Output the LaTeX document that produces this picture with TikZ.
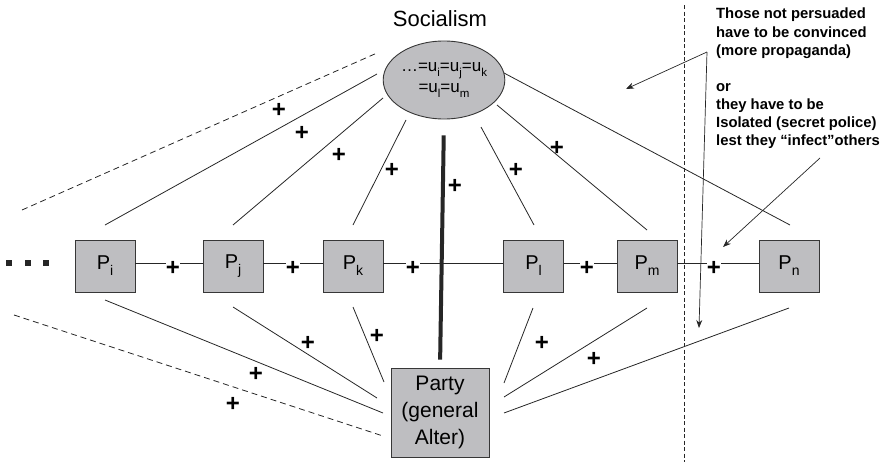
\documentclass[tikz,border=0pt]{standalone}
\usepackage{fontspec}
\setmainfont{Liberation Sans}
\usetikzlibrary{shapes.geometric,arrows.meta}
\definecolor{boxgray}{RGB}{190,190,193}
\definecolor{edgegray}{RGB}{55,55,55}
% lowered subscripts for the person boxes and the utility ellipse
\newcommand\bsub[1]{\raisebox{-6pt}{\fontsize{14}{14}\selectfont #1}}
\newcommand\esub[1]{\raisebox{-4.5pt}{\fontsize{11.5}{11.5}\selectfont #1}}
\begin{document}
\begin{tikzpicture}[x=1pt,y=-1pt,
  person/.style={draw=edgegray, line width=0.9pt, fill=boxgray,
    minimum width=60pt, minimum height=52pt, inner sep=0pt,
    font=\fontsize{20}{22}\selectfont},
  link/.style={line width=0.8pt, draw=black!85},
  linkdash/.style={link, dash pattern=on 6pt off 4pt},
  plus/.style={font=\bfseries\fontsize{24}{24}\selectfont, inner sep=0.4pt},
  plusw/.style={plus, fill=white},
  note/.style={anchor=base west, inner sep=0pt, font=\bfseries\fontsize{14.8}{16}\selectfont},
  pointer/.style={line width=0.7pt, draw=black!85, -{Stealth[length=8pt,width=6pt]}},
]
\useasboundingbox (0,0) rectangle (887,463);

% ---- title and the shared-utility ellipse
\node[anchor=base, inner sep=0pt, font=\fontsize{22}{22}\selectfont] (title) at (440,26) {Socialism};
\node[ellipse, draw=edgegray, line width=0.9pt, fill=boxgray, minimum width=106pt,
  minimum height=78pt, inner sep=0pt, align=center,
  font=\fontsize{17}{21}\selectfont] (soc) at (444,80)
  {…=u\esub{i}=u\esub{j}=u\esub{k}\\=u\esub{l}=u\esub{m}};

% ---- individuals
\node[person] (pi) at (105,266) {P\bsub{i}};
\node[person] (pj) at (233,266) {P\bsub{j}};
\node[person] (pk) at (353,266) {P\bsub{k}};
\node[person] (pl) at (533.5,266) {P\bsub{l}};
\node[person] (pm) at (647,266) {P\bsub{m}};
\node[person] (pn) at (789,266) {P\bsub{n}};

% ---- the party
\node[draw=edgegray, line width=0.9pt, fill=boxgray, minimum width=98pt,
  minimum height=89pt, inner sep=0pt, align=center,
  font=\fontsize{21}{27}\selectfont] (party) at (440,412.5) {Party\\(general\\Alter)};

% ---- leading dots
\foreach \x in {9,28,46}
  \fill[black!85] (\x-2.6,263-2.6) rectangle (\x+2.6,263+2.6);

% ---- chain between individuals
\draw[link] ([yshift=3pt]pi.east) -- ([yshift=3pt]pj.west);
\draw[link] ([yshift=3pt]pj.east) -- ([yshift=3pt]pk.west);
\draw[link] ([yshift=3pt]pk.east) -- ([yshift=3pt]pl.west);
\draw[link] ([yshift=3pt]pl.east) -- ([yshift=3pt]pm.west);
\draw[link] ([yshift=3pt]pm.east) -- ([yshift=3pt]pn.west);

% ---- thick axis between socialism and party
\draw[line width=4pt, black!85, shorten <=16pt, shorten >=8pt] (soc.south) -- (party.north);

% ---- rays towards the ellipse
\coordinate (ua0) at (22,210);   \coordinate (ub0) at (377,53);
\coordinate (ua1) at (105,225);  \coordinate (ub1) at (377,74);
\coordinate (ua2) at (233,225);  \coordinate (ub2) at (383,98);
\coordinate (ua3) at (353,225);  \coordinate (ub3) at (406,120);
\coordinate (ua4) at (534,225);  \coordinate (ub4) at (481,127);
\coordinate (ua5) at (647,230);  \coordinate (ub5) at (497,105);
\coordinate (ua6) at (790,225);  \coordinate (ub6) at (504,73);
\draw[linkdash] (ua0) -- (ub0);
\foreach \k in {1,...,6} \draw[link] (ua\k) -- (ub\k);

% ---- rays towards the party
\coordinate (la0) at (14,315);   \coordinate (lb0) at (383,436);
\coordinate (la1) at (105,300);  \coordinate (lb1) at (383,413);
\coordinate (la2) at (233,307);  \coordinate (lb2) at (377,398);
\coordinate (la3) at (353,307);  \coordinate (lb3) at (384,382);
\coordinate (la4) at (533,308);  \coordinate (lb4) at (504,383);
\coordinate (la5) at (647,308);  \coordinate (lb5) at (504,397);
\coordinate (la6) at (789,308);  \coordinate (lb6) at (504,413);
\draw[linkdash] (la0) -- (lb0);
\foreach \k in {1,...,6} \draw[link] (la\k) -- (lb\k);

% ---- positive ties
\foreach \x/\y/\n in {173/268/h1,293/268/h2,413/268/h3,587/268/h4,714/268/h5}
  \node[plusw] (\n) at (\x,\y) {+};
\foreach \x/\y/\n in {279/110/u1,302/133/u2,339/155/u3,392/170/u4,455/186/u5,516/170/u6,557/148/u7,
                      233/404/l1,256/374/l2,308/343/l3,377/336/l4,542/343/l5,594/359/l6}
  \node[plus] (\n) at (\x,\y) {+};

% ---- border of the persuaded region
\draw[line width=1pt, black!85, dash pattern=on 4pt off 2.5pt] (684,5) -- (684,462);

% ---- commentary
\node[note] (n1) at (716,19) {Those not persuaded};
\node[note] (n2) at (716,37) {have to be convinced};
\node[note] (n3) at (716,55) {(more propaganda)};
\node[note] (n4) at (716,91) {or};
\node[note] (n5) at (716,109) {they have to be};
\node[note] (n6) at (716,127) {Isolated (secret police)};
\node[note] (n7) at (716,145) {lest they “infect”others};

\coordinate (src) at (707,52);
\coordinate (tgtA) at (626,89);
\coordinate (tgtB) at (699,328);
\coordinate (src2) at (820,158);
\coordinate (tgtC) at (723,247);
\draw[pointer] (src) -- (tgtA);
\draw[pointer] (src) -- (tgtB);
\draw[pointer] (src2) -- (tgtC);
\end{tikzpicture}
\end{document}
